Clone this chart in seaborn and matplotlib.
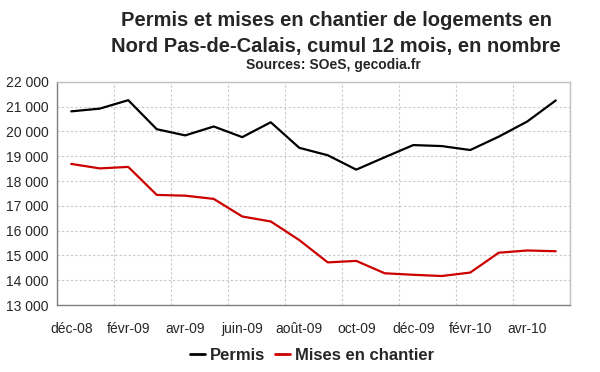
import numpy as np
import pandas as pd
import matplotlib.pyplot as plt
import seaborn as sns
from matplotlib.ticker import FuncFormatter

months = ["déc-08", "janv-09", "févr-09", "mars-09", "avr-09", "mai-09",
          "juin-09", "juil-09", "août-09", "sept-09", "oct-09", "nov-09",
          "déc-09", "janv-10", "févr-10", "mars-10", "avr-10", "mai-10"]
permis = [20810, 20920, 21260, 20090, 19840, 20200,
          19770, 20370, 19340, 19040, 18460, 18960,
          19450, 19410, 19250, 19790, 20400, 21250]
mises = [18690, 18510, 18570, 17440, 17410, 17280,
         16570, 16370, 15620, 14720, 14780, 14280,
         14220, 14170, 14310, 15110, 15200, 15170]
y_ticks = [13000, 14000, 15000, 16000, 17000, 18000, 19000, 20000, 21000, 22000]

df = pd.DataFrame({"mois": months, "Permis": permis, "Mises en chantier": mises})
df["pos"] = np.arange(len(df))
long = df.melt(id_vars=["mois", "pos"], var_name="serie", value_name="valeur")

sns.set_theme(style="white")
plt.rcParams["font.family"] = ["Liberation Sans", "DejaVu Sans"]

fig = plt.figure(figsize=(6, 3.72), dpi=100)
ax = fig.add_axes([0.095, 0.18, 0.855, 0.6])

sns.lineplot(data=long, x="pos", y="valeur", hue="serie",
             palette={"Permis": "#000000", "Mises en chantier": "#cc0000"},
             linewidth=1.6, ax=ax, legend=False)

n = len(months)
ax.set_xlim(-0.5, n - 0.5)
ax.set_ylim(y_ticks[0], y_ticks[-1])
ax.set_yticks(y_ticks)
ax.yaxis.set_major_formatter(FuncFormatter(lambda v, p: f"{int(v):,}".replace(",", " ")))

# ticks between categories, labels every other month
ax.set_xticks(np.arange(-0.5, n, 2))
ax.set_xticklabels([])
ax.set_xticks(np.arange(0, n - 1, 2), minor=True)
ax.set_xticklabels(months[::2], minor=True)
ax.tick_params(axis="x", which="minor", length=0, pad=12, labelsize=10)
ax.tick_params(axis="x", which="major", direction="out", length=4, color="#808080", width=1)
ax.tick_params(axis="y", direction="out", length=4, color="#808080", width=1, labelsize=10, pad=2)

ax.grid(True, which="major", axis="both", linestyle=(0, (2, 2)), color="#c8c8c8", linewidth=0.8)
ax.set_xlabel("")
ax.set_ylabel("")
for s in ["left", "bottom"]:
    ax.spines[s].set_color("#808080")
    ax.spines[s].set_linewidth(1.0)
for s in ["top", "right"]:
    ax.spines[s].set_color("#c0c0c0")
    ax.spines[s].set_linewidth(1.0)

fig.text(0.56, 0.946, "Permis et mises en chantier de logements en",
         ha="center", va="center", fontsize=14.5, fontweight="bold")
fig.text(0.56, 0.874, "Nord Pas-de-Calais, cumul 12 mois, en nombre",
         ha="center", va="center", fontsize=14.5, fontweight="bold")
fig.text(0.556, 0.825, "Sources: SOeS, gecodia.fr", ha="center", va="center",
         fontsize=10, fontweight="bold")

handles = [plt.Line2D([], [], color="#000000", lw=2),
           plt.Line2D([], [], color="#cc0000", lw=2)]
fig.legend(handles, ["Permis", "Mises en chantier"], loc="center",
           bbox_to_anchor=(0.52, 0.045), ncol=2, frameon=False,
           prop={"weight": "bold", "size": 12}, handlelength=0.9,
           handletextpad=0.3, columnspacing=0.6)

fig.savefig("out.png", dpi=100)
